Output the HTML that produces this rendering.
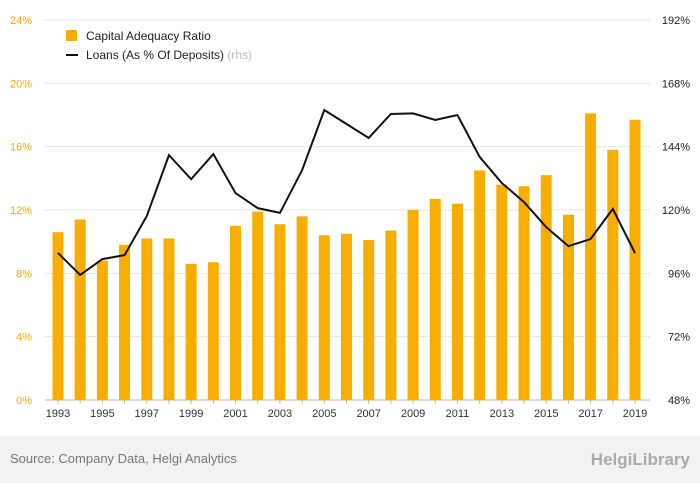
<!DOCTYPE html>
<html><head><meta charset="utf-8"><style>
body{margin:0;background:#fff;font-family:"Liberation Sans",sans-serif}
#wrap{position:relative;width:700px;height:483px;overflow:hidden}
</style></head><body>
<div id="wrap">
<svg id="chart" width="700" height="483"></svg>
</div>
<script>
const years=[1993,1994,1995,1996,1997,1998,1999,2000,2001,2002,2003,2004,2005,2006,2007,2008,2009,2010,2011,2012,2013,2014,2015,2016,2017,2018,2019];
const capitalAdequacy=[10.6,11.4,8.8,9.8,10.2,10.2,8.6,8.7,11.0,11.9,11.1,11.6,10.4,10.5,10.1,10.7,12.0,12.7,12.4,14.5,13.6,13.5,14.2,11.7,18.1,15.8,17.7];
const loansToDeposits=[103.7,95.4,101.4,102.9,117.7,140.8,131.7,141.2,126.4,120.7,118.9,135.1,157.9,152.6,147.3,156.4,156.6,154.1,156.0,140.1,130.2,123.0,113.5,106.3,109.0,120.4,103.7];
const leftTicks=[0,4,8,12,16,20,24];
const rightTicks=[48,72,96,120,144,168,192];
const NS="http://www.w3.org/2000/svg";
const svg=document.getElementById('chart');
function mk(t,a,p){const e=document.createElementNS(NS,t);for(const k in a)e.setAttribute(k,a[k]);(p||svg).appendChild(e);return e;}
const plotTop=20,plotBot=400,x0=58,x1=635;
const yL=v=>plotBot-(v-0)/(24-0)*(plotBot-plotTop);
const yR=v=>plotBot-(v-48)/(192-48)*(plotBot-plotTop);
const xS=i=>x0+i*(x1-x0)/(years.length-1);
let f=mk('rect',{x:0,y:436,width:700,height:47,fill:'#f2f2f2'});


let st=mk('text',{x:10,y:463,'font-size':13,fill:'#777'});st.textContent='Source: Company Data, Helgi Analytics';


let lg=mk('text',{x:690,y:465,'font-size':17,fill:'#aaa','text-anchor':'end','font-weight':'bold'});lg.textContent='HelgiLibrary';


leftTicks.forEach((v,i)=>{
 const y=yL(v);
 const g=mk('line',{x1:45,x2:650,y1:y,y2:y,stroke:i==0?'#bbb':'#e6e6e6','stroke-width':1});
 
 
 const t=mk('text',{x:32,y:y+4,'font-size':11,fill:'#f5a800','text-anchor':'end'});t.textContent=v+'%';
 
 
});
rightTicks.forEach(v=>{
 const t=mk('text',{x:690,y:yR(v)+4,'font-size':11,fill:'#222','text-anchor':'end'});t.textContent=v+'%';
 
 
});
years.forEach((yr,i)=>{
 const x=xS(i);
 const b=mk('rect',{x:x-5.5,y:yL(capitalAdequacy[i]),width:11,height:plotBot-yL(capitalAdequacy[i]),fill:'#f8ae00'});
 
 
 const tk=mk('line',{x1:x,x2:x,y1:plotBot,y2:plotBot+4,stroke:'#bbb'});
 
 
 if(i%2==0){const t=mk('text',{x:x,y:417,'font-size':11,fill:'#333','text-anchor':'middle'});t.textContent=yr;
 
 }
});
const pl=mk('polyline',{points:loansToDeposits.map((v,i)=>xS(i)+','+yR(v)).join(' '),fill:'none',stroke:'#111','stroke-width':2});


let l1=mk('rect',{x:66,y:30,width:11,height:11,fill:'#f8ae00'});


let t1=mk('text',{x:86,y:40,'font-size':12,fill:'#222'});t1.textContent='Capital Adequacy Ratio';


let l2=mk('line',{x1:66,x2:78,y1:55,y2:55,stroke:'#111','stroke-width':2});


let t2=mk('text',{x:86,y:59,'font-size':12,fill:'#222'});t2.textContent='Loans (As % Of Deposits) ';
const ts=mk('tspan',{fill:'#bbb'},t2);ts.textContent='(rhs)';


</script>
</body></html>
